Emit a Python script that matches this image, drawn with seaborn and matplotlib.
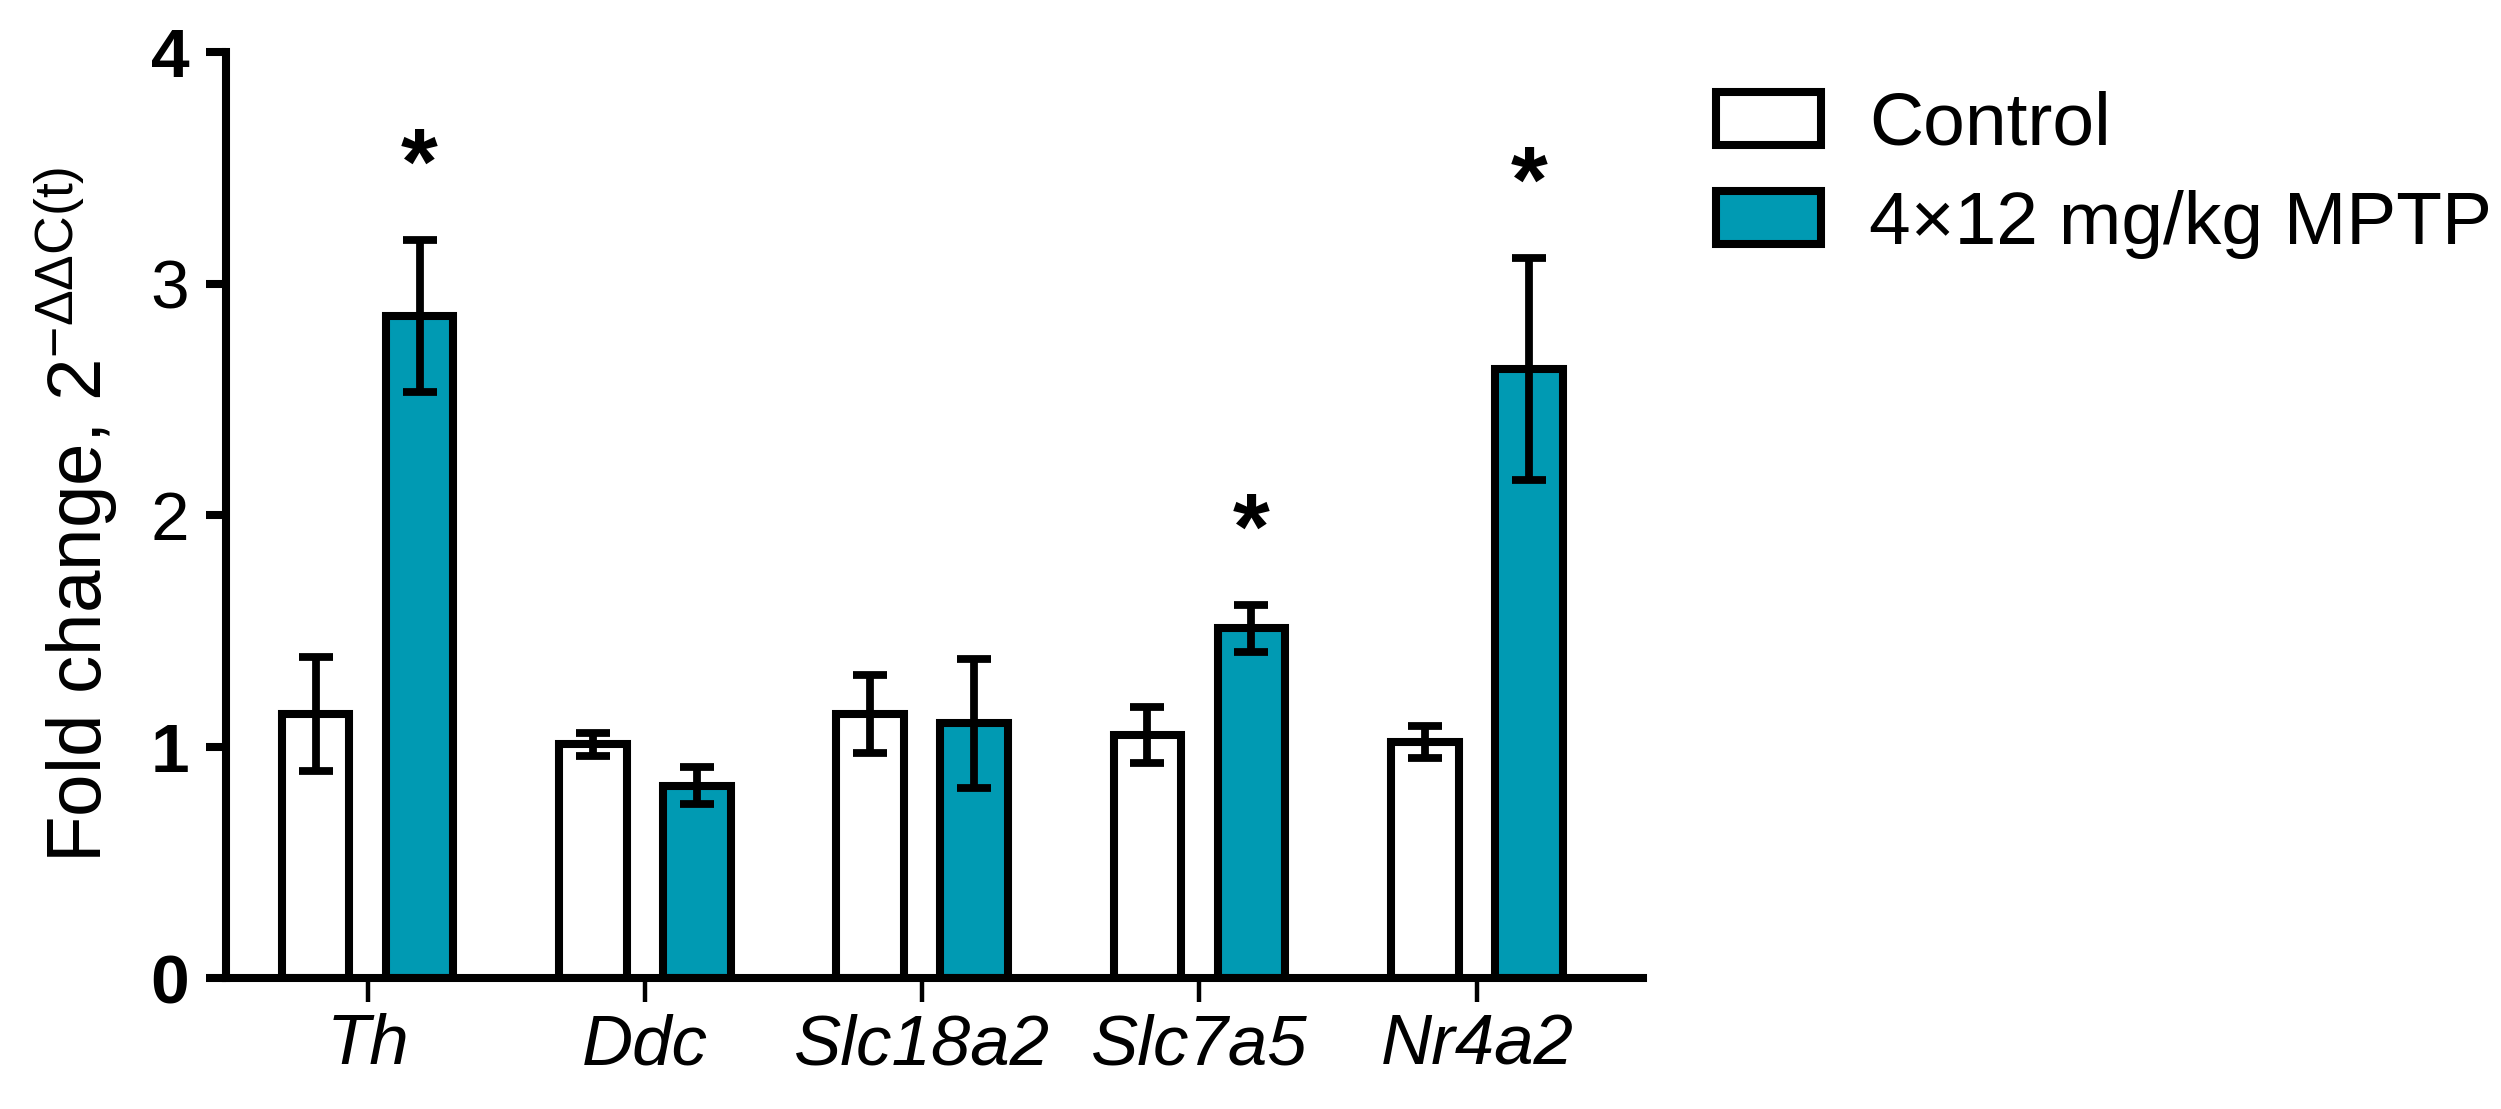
import pandas as pd
import seaborn as sns
import matplotlib.pyplot as plt
from matplotlib.patches import Patch

# values
genes = ["Th", "Ddc", "Slc18a2", "Slc7a5", "Nr4a2"]
groups = ["Control", "4×12 mg/kg MPTP"]
control_mean = [1.14, 1.01, 1.14, 1.05, 1.02]
control_err = [0.245, 0.05, 0.17, 0.12, 0.07]
mptp_mean = [2.86, 0.83, 1.10, 1.51, 2.63]
mptp_err = [0.33, 0.08, 0.28, 0.10, 0.48]
stars = ["*", "", "", "*", "*"]
y_ticks = [0, 1, 2, 3, 4]
y_tick_weights = ["bold", "bold", "normal", "normal", "bold"]

colors = ["white", "#009AB3"]

df = pd.DataFrame({
    "gene": genes * 2,
    "group": [groups[0]] * len(genes) + [groups[1]] * len(genes),
    "value": control_mean + mptp_mean,
})

sns.set_style("ticks")
plt.rcParams["font.family"] = ["Liberation Sans", "DejaVu Sans"]
plt.rcParams["mathtext.fontset"] = "custom"
plt.rcParams["mathtext.rm"] = "Liberation Sans"
plt.rcParams["mathtext.it"] = "Liberation Sans:italic"
plt.rcParams["mathtext.bf"] = "Liberation Sans:bold"
for key in ["text.color", "axes.labelcolor", "xtick.color", "ytick.color", "axes.edgecolor"]:
    plt.rcParams[key] = "black"

fig = plt.figure(figsize=(12.505, 5.545), dpi=200)
ax = fig.add_axes([0.0904, 0.1181, 0.5666, 0.8349])

sns.barplot(data=df, x="gene", y="value", hue="group", palette=colors,
            saturation=1, errorbar=None, width=0.75, gap=0.35, edgecolor="black",
            linewidth=2.9, legend=False, ax=ax, zorder=2)

# error bars on top of each bar
for container, err in zip(ax.containers, [control_err, mptp_err]):
    xs = [p.get_x() + p.get_width() / 2 for p in container]
    ys = [p.get_height() for p in container]
    ax.errorbar(xs, ys, yerr=err, fmt="none", ecolor="black", elinewidth=2.8,
                capsize=6, capthick=2.8, zorder=3)

# significance stars
for p, err, s in zip(ax.containers[1], mptp_err, stars):
    if s:
        ax.text(p.get_x() + p.get_width() / 2, p.get_height() + err + 0.2, s,
                ha="center", va="baseline", fontsize=34, fontweight="bold")

ax.set_xlim(-0.51, 4.6)
ax.set_ylim(0, 4)
ax.set_yticks(y_ticks)
sns.despine(ax=ax)
for side in ["left", "bottom"]:
    ax.spines[side].set_linewidth(2.9)

ax.tick_params(axis="y", length=7.2, width=2.9, labelsize=25, pad=6)
ax.tick_params(axis="x", length=8.6, width=1.6, labelsize=25.5, pad=4)
for lab in ax.get_xticklabels():
    lab.set_style("italic")
for lab, w in zip(ax.get_yticklabels(), y_tick_weights):
    lab.set_fontweight(w)

ax.set_xlabel("")
ax.set_ylabel(r"Fold change, 2$^{\mathregular{-\Delta\Delta C(t)}}$", fontsize=27.5)
ax.yaxis.set_label_coords(-0.075, 0.5)

handles = [Patch(facecolor=c, edgecolor="black", linewidth=2.9, label=g)
           for c, g in zip(colors, groups)]
fig.legend(handles=handles, loc="upper left", bbox_to_anchor=(0.686, 0.918),
           frameon=False, fontsize=27, handlelength=1.4, handleheight=0.7,
           handletextpad=0.65, labelspacing=0.4, borderpad=0, borderaxespad=0)

fig.savefig("out.png", dpi=200)
